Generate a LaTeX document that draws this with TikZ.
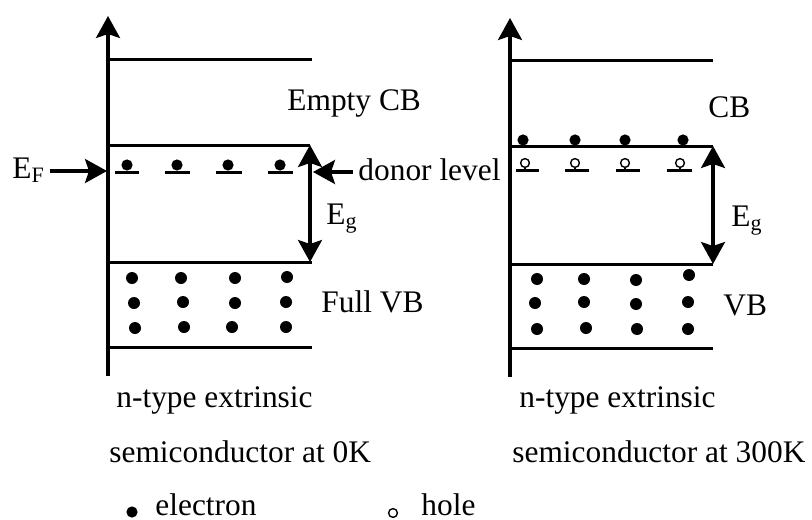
\documentclass[tikz,border=0pt]{standalone}
\usepackage{fontspec}
\setmainfont{Liberation Serif}
\usetikzlibrary{arrows.meta}

\tikzset{
  band/.style={line width=1.5pt},
  axis/.style={line width=1.6pt,-{Stealth[length=11pt,width=12pt,inset=2pt]}},
  gap/.style={line width=1.6pt,{Stealth[length=11pt,width=12pt,inset=2pt]}-{Stealth[length=11pt,width=12pt,inset=2pt]}},
  pointer/.style={line width=1.6pt,-{Stealth[length=11pt,width=12pt,inset=2pt]}},
  lbl/.style={anchor=base west,inner sep=2.5pt,font=\fontsize{15.7}{19}\selectfont},
  electron/.style={fill=black},
  hole/.style={line width=0.7pt}
}

\begin{document}
\begin{tikzpicture}[x=0.5pt,y=-0.5pt]
  \useasboundingbox (0,0) rectangle (812,519);

  % ---- left: n-type at 0K
  \draw[axis] (108,376) -- (108,16);
  \draw[band] (108,60) -- (312,60);
  \draw[band] (108,145) -- (310,145);
  \draw[band] (108,262) -- (312,262);
  \draw[band] (108,347) -- (312,347);
  \foreach \a/\b/\c in {115/139/127,165/190/177,216/242/228,268/293/280}{
    \draw[band] (\a,172) -- (\b,172);
    \fill[electron] (\c,165) circle[radius=2.8pt];
  }
  \foreach \x/\y in {132/278,181/278,235/278,287/277,134/303,183/302,235/303,286/302,135/328,184/327,232/327,286/327}{
    \fill[electron] (\x,\y) circle[radius=3pt];
  }
  \coordinate (cbL) at (310,145);
  \coordinate (vbL) at (310,262);
  \coordinate (EFtip) at (107,171);
  \coordinate (donortip) at (313,172);
  \node[lbl] (EF) at (7,178) {E\textsubscript{F}};
  \node[lbl] (emptycb) at (282,111) {Empty CB};
  \node[lbl] (donor) at (353,180) {donor level};
  \node[lbl] (EgL) at (321,224) {E\textsubscript{g}};
  \node[lbl] (fullvb) at (316,312) {Full VB};
  \node[lbl] (typeL) at (111,407) {n-type extrinsic};
  \node[lbl] (tempL) at (104,462) {semiconductor at 0K};
  \draw[pointer] (EF.east |- EFtip) -- (EFtip);
  \draw[pointer] (donor.west |- donortip) -- (donortip);
  \draw[gap] (cbL) -- (vbL);

  % ---- right: n-type at 300K
  \draw[axis] (510,377) -- (510,18);
  \draw[band] (510,61) -- (713,61);
  \draw[band] (510,146) -- (713,146);
  \draw[band] (510,264) -- (713,264);
  \draw[band] (510,348) -- (713,348);
  \foreach \a/\b/\c in {516/539/525,565/589/575,616/640/625,667/692/680}{
    \draw[band] (\a,170) -- (\b,170);
    \draw[hole] (\c,163) circle[radius=2.2pt];
    \draw[hole] (\c,167) -- (\c,170);
  }
  \foreach \x in {523,575,625,683}{
    \fill[electron] (\x,140) circle[radius=2.8pt];
  }
  \foreach \x/\y in {537/279,584/279,636/280,689/275,535/303,584/302,636/304,688/302,537/329,586/328,637/329,688/329}{
    \fill[electron] (\x,\y) circle[radius=3pt];
  }
  \coordinate (cbR) at (713,146);
  \coordinate (vbR) at (713,264);
  \node[lbl] (cbtext) at (703,118) {CB};
  \node[lbl] (EgR) at (726,226) {E\textsubscript{g}};
  \node[lbl] (vbtext) at (718,315) {VB};
  \node[lbl] (typeR) at (514,407) {n-type extrinsic};
  \node[lbl] (tempR) at (507,462) {semiconductor at 300K};
  \draw[gap] (cbR) -- (vbR);

  % ---- legend
  \fill[electron] (132,512) circle[radius=2.8pt];
  \node[lbl] (electronkey) at (150,515) {electron};
  \draw[hole] (393,513) circle[radius=2.2pt];
  \node[lbl] (holekey) at (416,515) {hole};
\end{tikzpicture}
\end{document}
